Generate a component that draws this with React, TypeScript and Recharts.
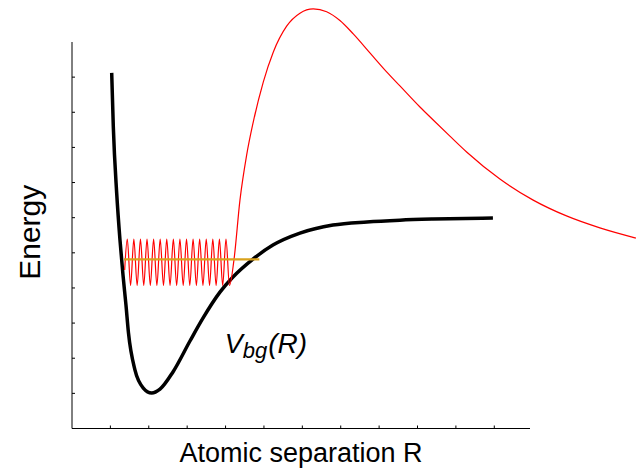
import React from 'react';
import { LineChart, Line, XAxis, YAxis, ReferenceDot } from 'recharts';

// Ground-state potential V_bg(R)
const wellR = [1.034, 1.076, 1.164, 1.25, 1.328, 1.406, 1.471, 1.641, 1.857, 2.076, 2.292, 2.63, 3.073, 3.411, 3.854, 4.193, 4.714, 5.234, 5.938, 6.797, 7.682, 8.542, 9.401, 10.964];
const wellE = [10.12, 8.59, 6.7, 5.36, 4.37, 3.51, 2.72, 1.66, 1.15, 1.01, 1.12, 1.61, 2.49, 3.14, 3.88, 4.31, 4.82, 5.22, 5.56, 5.79, 5.88, 5.93, 5.96, 5.99];

// Bound-state wavefunction, continuing into the outgoing lobe
const waveR = [
  1.372,
  1.44, 1.526, 1.611, 1.697, 1.783, 1.869, 1.954, 2.04, 2.126, 2.211, 2.297, 2.383, 2.468, 2.554, 2.64, 2.726,
  2.811, 2.897, 2.983, 3.068, 3.154, 3.24, 3.325, 3.411, 3.497, 3.583, 3.668, 3.754, 3.84, 3.925, 4.011, 4.102,
  4.219, 4.375, 4.549, 4.721, 4.982, 5.242, 5.591, 5.938, 6.284, 6.633, 6.979, 7.326, 7.76, 8.195, 8.542, 9.063,
  9.409, 9.844, 10.279, 11.146, 12.013, 12.88, 13.75, 14.688,
];
const waveE = [
  4.51,
  5.39, 4.07, 5.39, 4.07, 5.39, 4.07, 5.39, 4.07, 5.39, 4.07, 5.39, 4.07, 5.39, 4.07, 5.39, 4.07,
  5.39, 4.07, 5.39, 4.07, 5.39, 4.07, 5.39, 4.07, 5.39, 4.07, 5.39, 4.07, 5.39, 4.07, 5.39, 4.07,
  4.8, 6.5, 7.78, 8.72, 9.86, 10.71, 11.45, 11.82, 11.94, 11.86, 11.61, 11.23, 10.69, 10.15, 9.75, 9.15,
  8.78, 8.32, 7.87, 7.1, 6.5, 6.05, 5.71, 5.42,
];

// Bound-state energy level
const levelR = [1.354, 4.88];
const levelE = [4.815, 4.815];

const xTicks = [1, 2, 3, 4, 5, 6, 7, 8, 9, 10, 11];
const yTicks = [1, 2, 3, 4, 5, 6, 7, 8, 9, 10];
const xDomain: [number, number] = [0, 11.93];
const yDomain: [number, number] = [0, 11];

const potentialLabel = { r: 3.98, e: 2.15 };

const toPoints = (rs: number[], es: number[]) => rs.map((r, i) => ({ r, e: es[i] }));

const wellData = toPoints(wellR, wellE);
const waveData = toPoints(waveR, waveE);
const levelData = toPoints(levelR, levelE);

const FONT = '"Liberation Sans", Arial, Helvetica, sans-serif';

// Tick marks only, no tick text
const NoTickText = () => <g />;

export default function App() {
  return (
    <div style={{ position: 'absolute', left: 0, top: 0, width: 640, height: 472, background: '#fff' }}>
      <style>{'.free-line, .free-line * { clip-path: none !important; }'}</style>
      <LineChart width={640} height={472} margin={{ top: 42, right: 110, bottom: 13.5, left: 32 }}>
        <XAxis
          dataKey="r"
          type="number"
          domain={xDomain}
          allowDataOverflow
          ticks={xTicks}
          tick={NoTickText}
          tickSize={-3}
          height={30}
          stroke="#000"
          axisLine={{ stroke: '#000', strokeWidth: 1 }}
          tickLine={{ stroke: '#000', strokeWidth: 1 }}
          label={{
            content: (props: any) => {
              const vb = props.viewBox;
              return (
                <text
                  x={vb.x + vb.width / 2}
                  y={vb.y + 33}
                  textAnchor="middle"
                  fontFamily={FONT}
                  fontSize={27}
                  fill="#000"
                >
                  Atomic separation R
                </text>
              );
            },
          }}
        />
        <YAxis
          dataKey="e"
          type="number"
          domain={yDomain}
          allowDataOverflow
          ticks={yTicks}
          tick={NoTickText}
          tickSize={-3}
          width={40}
          stroke="#000"
          axisLine={{ stroke: '#000', strokeWidth: 1 }}
          tickLine={{ stroke: '#000', strokeWidth: 1 }}
          label={{
            content: (props: any) => {
              const vb = props.viewBox;
              const cx = vb.x + vb.width - 32.5;
              const cy = vb.y + vb.height / 2 - 3;
              return (
                <text
                  x={cx}
                  y={cy}
                  transform={`rotate(-90 ${cx} ${cy})`}
                  textAnchor="middle"
                  fontFamily={FONT}
                  fontSize={30}
                  fill="#000"
                >
                  Energy
                </text>
              );
            },
          }}
        />
        <Line
          data={wellData}
          dataKey="e"
          type="monotone"
          stroke="#000"
          strokeWidth={3.5}
          dot={false}
          activeDot={false}
          isAnimationActive={false}
          className="free-line"
        />
        <Line
          data={waveData}
          dataKey="e"
          type="monotone"
          stroke="#ff0000"
          strokeWidth={1.2}
          dot={false}
          activeDot={false}
          isAnimationActive={false}
          className="free-line"
        />
        <Line
          data={levelData}
          dataKey="e"
          type="linear"
          stroke="#d9a21c"
          strokeWidth={2.2}
          dot={false}
          activeDot={false}
          isAnimationActive={false}
          className="free-line"
        />
        <ReferenceDot
          x={potentialLabel.r}
          y={potentialLabel.e}
          r={0}
          fill="none"
          stroke="none"
          label={{
            content: (props: any) => {
              const vb = props.viewBox;
              const x = vb.x + (vb.width || 0) / 2;
              const y = vb.y + (vb.height || 0) / 2;
              return (
                <text x={x} y={y} fontFamily={FONT} fontStyle="italic" fill="#000">
                  <tspan fontSize={27}>V</tspan>
                  <tspan fontSize={22} dy={5}>bg</tspan>
                  <tspan fontSize={28} dy={-5} dx={1}>(R)</tspan>
                </text>
              );
            },
          }}
        />
      </LineChart>
    </div>
  );
}
